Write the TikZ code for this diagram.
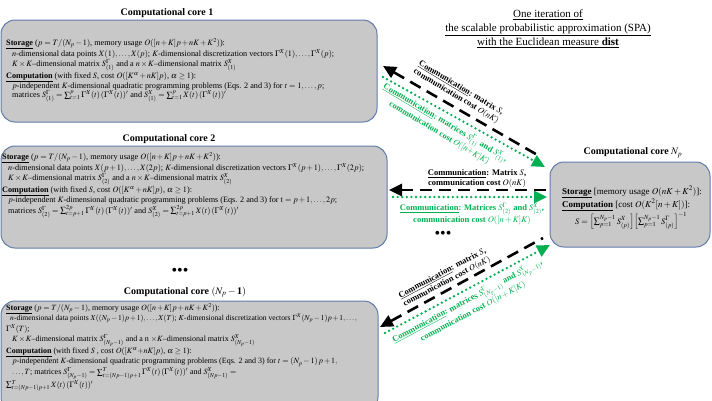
\documentclass[tikz,border=0pt]{standalone}
\usepackage{amsmath}
\usepackage{mathptmx}
\usepackage{fontspec}
\setmainfont{Liberation Serif}
\usetikzlibrary{arrows.meta}

\definecolor{commgreen}{RGB}{0,176,80}
\definecolor{corefill}{RGB}{200,200,200}
\definecolor{coreedge}{RGB}{96,124,170}
\newcommand{\tightmath}{\medmuskip=2mu\relax}

\begin{document}
\begin{tikzpicture}[x=1pt, y=-1pt, >={Triangle[length=13pt,width=12pt]},
    corebox/.style={draw=coreedge, fill=corefill, line width=1pt, rounded corners=14pt, inner sep=0pt},
    coretitle/.style={font=\fontsize{10}{12}\selectfont\bfseries},
    coretext/.style={anchor=north west, inner sep=0pt, align=left, font=\fontsize{8.2}{9}\selectfont\tightmath},
    blackcomm/.style={line width=2.6pt, dash pattern=on 12pt off 7pt},
    greencomm/.style={commgreen, line width=2.6pt, line cap=round, dash pattern=on 0pt off 4.6pt},
    commlabel/.style={font=\fontsize{8.5}{9.5}\selectfont\bfseries, align=center, inner sep=0pt}]

    \useasboundingbox (0,0) rectangle (712,400);

    % === boxes of the computational cores ===
    \node[corebox, minimum width=376pt, minimum height=102pt] (core1) at (189,71) {};
    \node[corebox, minimum width=386pt, minimum height=102pt] (core2) at (194,197) {};
    \node[corebox, minimum width=377pt, minimum height=110pt] (core3) at (189.5,356) {};
    \node[corebox, minimum width=160pt, minimum height=85pt] (coreNp) at (630,204.5) {};

    % === titles ===
    \node[coretitle] (title1) at (167,13) {Computational core 1};
    \node[coretitle] (title2) at (169,139) {Computational core 2};
    \node[coretitle] (title3) at (185,292) {Computational core $(\boldsymbol{N_p} - \mathbf{1})$};
    \node[coretitle] (titleNp) at (633,153) {Computational core $\boldsymbol{N_p}$};

    \node[align=center, font=\fontsize{11}{14}\selectfont] (spatitle) at (548,29)
        {\underline{One iteration of}\\
         \underline{the scalable probabilistic approximation (SPA)}\\
         \underline{with the Euclidean measure \textbf{dist}}};

    % === texts in the boxes ===
    \node[coretext] (text1) at (6,38) {%
        \underline{\textbf{Storage}} ($p = T/(N_p-1)$, memory usage $O([n+K]p+nK+K^2)$):\\
        \hspace*{6pt}$n$-dimensional data points $X(1),\ldots,X(p)$; $K$-dimensional discretization vectors $\Gamma^X(1),\ldots,\Gamma^X(p)$;\\
        \hspace*{6pt}$K\times K$--dimensional matrix $S^{\Gamma}_{(1)}$ and a $n\times K$--dimensional matrix $S^{X}_{(1)}$\\
        \underline{\textbf{Computation}} (with fixed $S$, cost $O([K^{\alpha}+nK]p)$, $\boldsymbol{\alpha}\geq 1$):\\
        \hspace*{6pt}$p$-independent $K$-dimensional quadratic programming problems (Eqs. 2 and 3) for $t=1,\ldots,p$;\\
        \hspace*{6pt}matrices $S^{\Gamma}_{(1)}=\sum_{t=1}^{p}\Gamma^X(t)\,(\Gamma^X(t))'$ and $S^{X}_{(1)}=\sum_{t=1}^{p}X(t)\,(\Gamma^X(t))'$};

    \node[coretext] (text2) at (2,152) {%
        \underline{\textbf{Storage}} ($p = T/(N_p-1)$, memory usage $O([n+K]p+nK+K^2)$):\\
        \hspace*{6pt}$n$-dimensional data points $X(p+1),\ldots,X(2p)$; $K$-dimensional discretization vectors $\Gamma^X(p+1),\ldots,\Gamma^X(2p)$;\\
        \hspace*{6pt}$K\times K$--dimensional matrix $S^{\Gamma}_{(2)}$ and a $n\times K$--dimensional matrix $S^{X}_{(2)}$\\
        \underline{\textbf{Computation}} (with fixed $S$, cost $O([K^{\alpha}+nK]p)$, $\boldsymbol{\alpha}\geq 1$):\\
        \hspace*{6pt}$p$-independent $K$-dimensional quadratic programming problems (Eqs. 2 and 3) for t $=p+1,\ldots,2p$;\\
        \hspace*{6pt}matrices $S^{\Gamma}_{(2)}=\sum_{t=p+1}^{2p}\Gamma^X(t)\,(\Gamma^X(t))'$ and $S^{X}_{(2)}=\sum_{t=p+1}^{2p}X(t)\,(\Gamma^X(t))'$};

    \node[coretext, font=\fontsize{8}{10.5}\selectfont\tightmath] (text3) at (6,303) {%
        \underline{\textbf{Storage}} ($p = T/(N_p-1)$, memory usage $O([n+K]p+nK+K^2)$):\\
        \hspace*{4pt}{\fontsize{7.6}{9}\selectfont $n$-dimensional data points $X((N_p-1)p+1),\ldots,X(T)$; $K$-dimensional discretization vectors $\Gamma^X(N_p-1)p+1,\ldots,$}\\
        $\Gamma^X(T)$;\\
        \hspace*{6pt}$K\times K$--dimensional matrix $S^{\Gamma}_{(N_p-1)}$ and a n $\times K$--dimensional matrix $S^{X}_{(N_p-1)}$\\
        \underline{\textbf{Computation}} (with fixed $S$ , cost $O([K^{\alpha}{+}nK]p)$, $\boldsymbol{\alpha}\geq 1$):\\
        \hspace*{6pt}$p$-independent $K$-dimensional quadratic programming problems (Eqs. 2 and 3) for $t=(N_p-1)\,p+1,$\\
        \hspace*{6pt}$\ldots,T$; matrices $S^{\Gamma}_{(N_p-1)}=\sum_{t=(Np-1)p+1}^{T}\Gamma^X(t)\,(\Gamma^X(t))'$ and $S^{X}_{(Np-1)}=$\\
        $\sum_{t=(Np-1)p+1}^{T}X(t)\,(\Gamma^X(t))'$};

    \node[anchor=west, inner sep=0pt, font=\fontsize{9}{11}\selectfont] (storeNp) at (562,192)
        {\underline{\textbf{Storage}} [memory usage $O(nK+K^2)$]:};
    \node[anchor=west, inner sep=0pt, font=\fontsize{9}{11}\selectfont] (compNp) at (562,205)
        {\underline{\textbf{Computation}} [cost $O(K^2[n+K])$]:};
    \node[inner sep=0pt, font=\fontsize{8.5}{10}\selectfont] (formNp) at (631,221)
        {$S=\Bigl[\sum_{p=1}^{N_p-1}S^{X}_{(p)}\Bigr]\Bigl[\sum_{p=1}^{N_p-1}S^{\Gamma}_{(p)}\Bigr]^{-1}$};

    % === ends of the connectors ===
    \coordinate (c1b) at (383,66);
    \coordinate (np1b) at (541,157);
    \coordinate (c1g) at (383,77);
    \coordinate (np1g) at (545,167);
    \coordinate (c2b) at (389,190);
    \coordinate (np2b) at (546,190);
    \coordinate (c2g) at (393,197);
    \coordinate (np2g) at (547,197);
    \coordinate (c3b) at (380,327);
    \coordinate (np3b) at (543,238);
    \coordinate (c3g) at (385,333);
    \coordinate (np3g) at (550,245);

    % === communication between the cores ===
    \draw[blackcomm, <-] (c1b) -- (np1b);
    \draw[greencomm, ->] (c1g) -- (np1g);
    \draw[blackcomm, <-] (c2b) -- (np2b);
    \draw[greencomm, ->] (c2g) -- (np2g);
    \draw[blackcomm, <-] (c3b) -- (np3b);
    \draw[greencomm, ->] (c3g) -- (np3g);

    \node[commlabel, rotate=-31] (lab1b) at (458.5,92.4)
        {\underline{Communication}: matrix $S$,\\ communication cost $O(nK)$};
    \node[commlabel, rotate=-31, text=commgreen] (lab1g) at (442.5,127.6)
        {\underline{Communication}: matrices $S^{\Gamma}_{(1)}$ and $S^{X}_{(1)}$,\\ communication cost $O([n{+}K]K)$};
    \node[commlabel] (lab2b) at (477,178.5)
        {\underline{Communication}: Matrix $S$,\\ communication cost $O(nK)$};
    \node[commlabel, text=commgreen] (lab2g) at (472,214)
        {\underline{Communication}: Matrices $S^{\Gamma}_{(2)}$ and $S^{X}_{(2)}$,\\ communication cost $O([n+K]K)$};
    \node[commlabel, rotate=28] (lab3b) at (444.8,277.8)
        {\underline{Communication}: matrix $S$,\\ communication cost $O(nK)$};
    \node[commlabel, rotate=28, text=commgreen] (lab3g) at (470,306)
        {\underline{Communication}: matrices $S^{\Gamma}_{(N_p-1)}$ and $S^{X}_{(N_p-1)}$,\\ communication cost $O([n+K]K)$};

    % === dots ===
    \node[font=\fontsize{16}{16}\selectfont] (dotsmid) at (443,235) {\textbullet\textbullet\textbullet};
    \node[font=\fontsize{16}{16}\selectfont] (dotsleft) at (180,272) {\textbullet\textbullet\textbullet};

\end{tikzpicture}
\end{document}
